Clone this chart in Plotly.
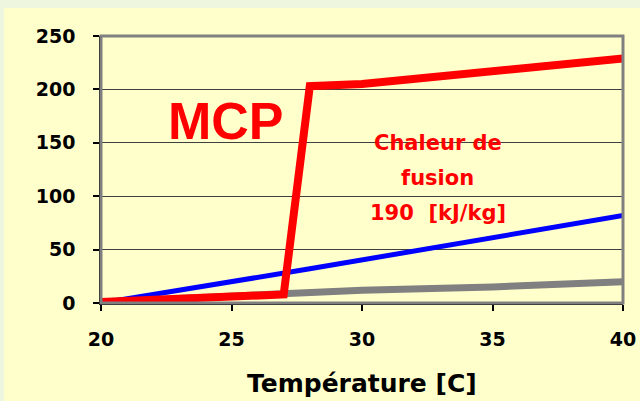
import plotly.graph_objects as go

# Data
red_x = [20, 27, 28, 30, 40]
red_y = [1, 8, 203, 205, 229]
blue_x = [20, 28, 40]
blue_y = [0, 32, 82]
gray_x = [20, 27, 28, 30, 35, 40]
gray_y = [1, 8, 9, 12, 15, 20]

x_ticks = [20, 25, 30, 35, 40]
y_ticks = [0, 50, 100, 150, 200, 250]

W, H = 640, 401
L, R, T, B = 101, 17, 36, 98
pw, ph = W - L - R, H - T - B

def px(xp):
    return (xp - L) / pw

def py(yp):
    return (H - B - yp) / ph

fig = go.Figure()
fig.add_trace(go.Scatter(x=gray_x, y=gray_y, mode="lines",
                         line=dict(color="#808080", width=7), hoverinfo="skip"))
fig.add_trace(go.Scatter(x=blue_x, y=blue_y, mode="lines",
                         line=dict(color="#0000FF", width=5), hoverinfo="skip"))
fig.add_trace(go.Scatter(x=red_x, y=red_y, mode="lines",
                         line=dict(color="#FF0000", width=8), hoverinfo="skip"))

font_a = "Liberation Sans, Arial, sans-serif"
font_w = "DejaVu Sans, Verdana, sans-serif"

fig.update_layout(
    width=W, height=H,
    margin=dict(l=L, r=R, t=T, b=B, autoexpand=False),
    paper_bgcolor="#EEF6E0",
    plot_bgcolor="#FFFFFF",
    showlegend=False,
    xaxis=dict(range=[20, 40], tickvals=x_ticks, ticktext=[str(v) for v in x_ticks],
               automargin=False,
               showgrid=False, zeroline=False, showline=True, linecolor="#000000", linewidth=1.5,
               ticks="outside", ticklen=6, tickcolor="#000000", tickwidth=1.5,
               ticklabelstandoff=12,
               tickfont=dict(family=font_w, size=19, color="#000000", weight="bold")),
    yaxis=dict(range=[0, 250], tickvals=y_ticks, ticktext=[str(v) for v in y_ticks],
               automargin=False,
               showgrid=True, gridcolor="#404040", gridwidth=1, zeroline=False,
               showline=True, linecolor="#000000", linewidth=1.5,
               ticks="outside", ticklen=6, tickcolor="#000000", tickwidth=1.5,
               ticklabelstandoff=14,
               tickfont=dict(family=font_w, size=19, color="#000000", weight="bold")),
    shapes=[
        dict(type="rect", xref="paper", yref="paper", x0=px(4), x1=px(640), y0=py(401), y1=py(8),
             fillcolor="#FFFFCC", line=dict(width=0), layer="below"),
        dict(type="rect", xref="paper", yref="paper", x0=0, x1=1, y0=0, y1=1,
             fillcolor="rgba(0,0,0,0)", line=dict(color="#808080", width=3), layer="above"),
    ],
    annotations=[
        dict(text="MCP", x=24.8, y=170, xref="x", yref="y", showarrow=False,
             font=dict(family=font_a, size=52, color="#FF0000", weight="bold")),
        dict(text="Chaleur de", x=32.9, y=150, xref="x", yref="y", showarrow=False,
             font=dict(family=font_w, size=21, color="#FF0000", weight="bold")),
        dict(text="fusion", x=32.9, y=117, xref="x", yref="y", showarrow=False,
             font=dict(family=font_w, size=21, color="#FF0000", weight="bold")),
        dict(text="190  [kJ/kg]", x=32.9, y=84, xref="x", yref="y", showarrow=False,
             font=dict(family=font_w, size=21, color="#FF0000", weight="bold")),
        dict(text="Température [C]", x=0.5, y=py(383), xref="paper", yref="paper",
             showarrow=False, yanchor="middle",
             font=dict(family=font_w, size=25, color="#000000", weight="bold")),
    ],
)

fig.write_html("out.html",
               config={"displayModeBar": False},
               post_script="document.body.style.margin='0';"
                           "document.body.style.background='#EEF6E0';")
